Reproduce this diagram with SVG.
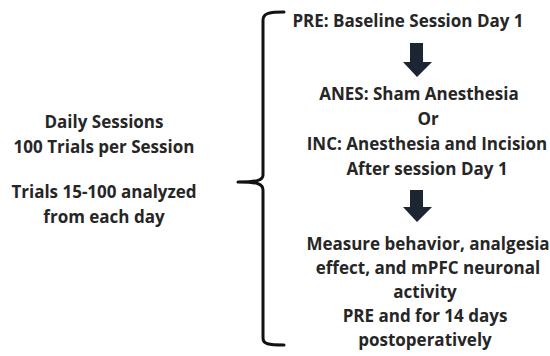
<svg xmlns="http://www.w3.org/2000/svg" width="550" height="356" viewBox="0 0 550 356">
<style>
text{font-family:"Open Sans","Noto Sans","Liberation Sans",sans-serif;font-weight:bold;font-size:17px;fill:#262626;text-anchor:middle}
.arrow{fill:#1c2633}
.brace{fill:none;stroke:#111;stroke-width:3;stroke-linejoin:round;stroke-linecap:round}
</style>
<rect width="550" height="356" fill="#fff"/>
<g id="left-note">
<text x="104" y="128">Daily Sessions</text>
<text x="104" y="153">100 Trials per Session</text>
<text x="104" y="198">Trials 15-100 analyzed</text>
<text x="104" y="223">from each day</text>
</g>
<g id="connectors">
<path class="brace" d="M284,12 C270,12 263,13 263,20 L263,175 C263,180 258,182 238,182 C258,182 263,184 263,190 L263,338 C263,344 268,345 284,345"/>
<polygon class="arrow" points="410,43 423,43 423,62 432,62 417,77 403,62 410,62"/>
<polygon class="arrow" points="410,190 423,190 423,207 432,207 417,222 403,207 410,207"/>
</g>
<g id="pre">
<text x="408" y="27">PRE: Baseline Session Day 1</text>
</g>
<g id="treatment">
<text x="419" y="100">ANES: Sham Anesthesia</text>
<text x="428" y="125">Or</text>
<text x="427" y="150">INC: Anesthesia and Incision</text>
<text x="427" y="175">After session Day 1</text>
</g>
<g id="measure">
<text x="428" y="250">Measure behavior, analgesia</text>
<text x="428" y="274">effect, and mPFC neuronal</text>
<text x="425" y="298">activity</text>
<text x="425" y="322">PRE and for 14 days</text>
<text x="425" y="346">postoperatively</text>
</g>
</svg>
